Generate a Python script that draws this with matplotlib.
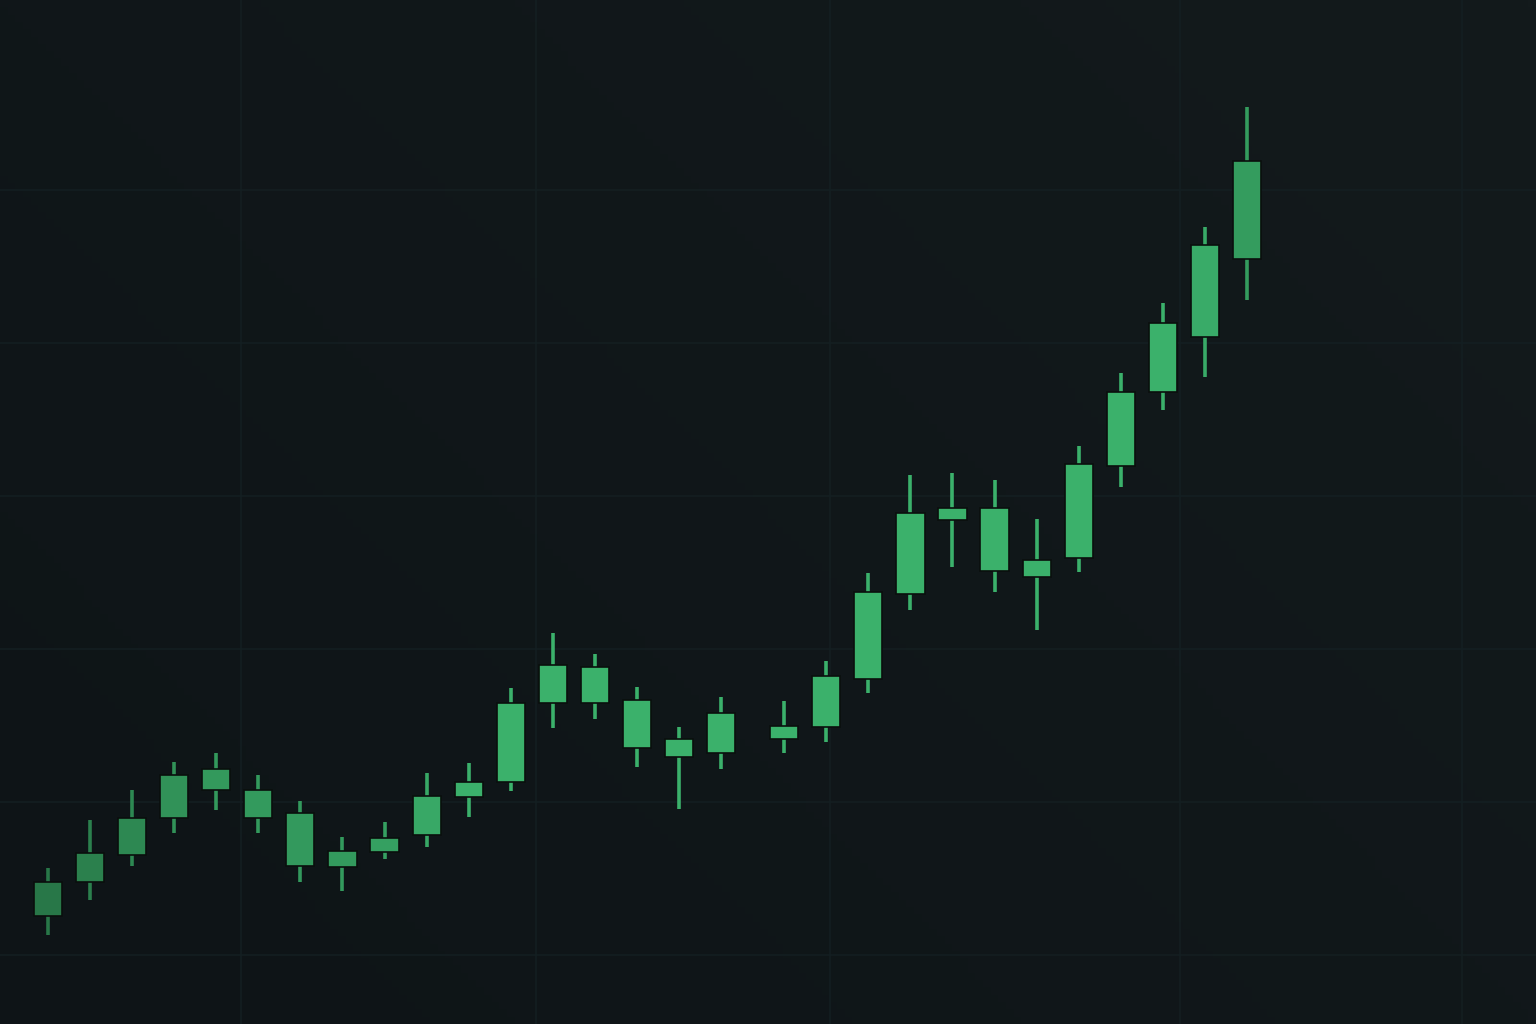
import numpy as np
import matplotlib
matplotlib.use("Agg")
import matplotlib.pyplot as plt
from matplotlib.colors import to_rgb

# ---- data (session index, OHLC) ----
day = [0, 1, 2, 3, 4, 5, 6, 7, 8, 9, 10, 11, 12, 13, 14, 15, 16,
       17.5, 18.5, 19.5, 20.5, 21.5, 22.5, 23.5, 24.5, 25.5, 26.5, 27.5, 28.5]
open_ = [105.1, 109.5, 113.1, 117.9, 121.6, 117.9, 111.6, 111.5, 113.5, 115.7,
         120.7, 122.6, 132.9, 132.9, 127.1, 125.9, 126.4, 128.2, 129.8, 136.1,
         147.2, 156.9, 150.2, 149.4, 151.9, 163.9, 173.6, 180.8, 191.0]
close = [109.5, 113.3, 117.9, 123.5, 124.3, 121.6, 118.6, 113.6, 115.3, 120.8,
         122.6, 132.9, 137.9, 137.7, 133.3, 128.2, 131.6, 129.9, 136.5, 147.5,
         157.8, 158.4, 158.4, 151.6, 164.2, 173.6, 182.6, 192.8, 203.8]
high = [111.4, 117.7, 121.6, 125.2, 126.4, 123.5, 120.1, 115.4, 117.4, 123.8,
        125.1, 134.9, 142.1, 139.4, 135.0, 129.8, 133.7, 133.2, 138.4, 149.9,
        162.8, 163.0, 162.1, 157.0, 166.5, 176.1, 185.2, 195.2, 210.9]
low = [102.6, 107.2, 111.6, 116.0, 119.0, 116.0, 109.5, 108.4, 112.6, 114.1,
       118.0, 121.4, 129.7, 130.9, 124.6, 119.1, 124.3, 126.4, 127.8, 134.3,
       145.1, 150.7, 147.5, 142.5, 150.1, 161.2, 171.2, 175.6, 185.6]
grid_days = [4.6, 11.6, 18.6, 26.9, 33.6]
grid_prices = [100, 120, 140, 160, 180, 200]

# ---- style ----
bg = "#10171a"
base_green = np.array(to_rgb("#3bb16b"))
grid_col = "#141f22"
xlim = (-1.14, 35.37)
ylim = (90.98, 224.84)

fig = plt.figure(figsize=(15.36, 10.24), dpi=100, facecolor=bg)
ax = fig.add_axes([0, 0, 1, 1])
ax.set_facecolor(bg)
ax.set_xlim(*xlim)
ax.set_ylim(*ylim)

# subtle background gradient
gx, gy = np.meshgrid(np.linspace(0, 1, 200), np.linspace(0, 1, 140))
c0 = np.array(to_rgb("#0e1417"))
c1 = np.array(to_rgb("#131a1c"))
t = (0.6 * gx + 0.4 * (1 - gy))[..., None]
img = c0 * (1 - t) + c1 * t
ax.imshow(img, extent=(*xlim, *ylim), origin="upper", aspect="auto", zorder=0)

ax.set_xticks(grid_days)
ax.set_yticks(grid_prices)
ax.grid(True, color=grid_col, linewidth=1.1, zorder=0.5)
ax.tick_params(length=0, labelbottom=False, labelleft=False)
for s in ax.spines.values():
    s.set_visible(False)

# per-candle shade: darker towards the image edges (vignette)
d = np.array(day, dtype=float)
mid = (np.array(open_) + np.array(close)) / 2
fx = (d - xlim[0]) / (xlim[1] - xlim[0])
fy = (mid - ylim[0]) / (ylim[1] - ylim[0])
r = np.hypot((fx - 0.5) / 0.5, (fy - 0.5) / 0.5)
dark = np.clip((r - 0.66) * 0.6, 0, 0.33)
colors = [tuple(base_green * (1 - k)) for k in dark]

o = np.array(open_)
c = np.array(close)
ax.vlines(d, low, high, colors=colors, linewidth=2.6, zorder=2)
ax.bar(d, c - o, bottom=o, width=0.67, color=colors,
       edgecolor="#0a0f0d", linewidth=1.2, zorder=3)

fig.savefig("out.png", dpi=100, facecolor=bg)
